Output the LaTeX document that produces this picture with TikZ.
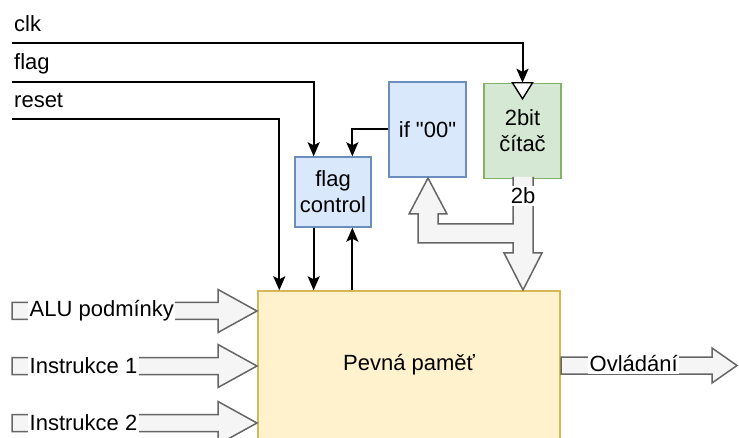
\documentclass[tikz,border=0pt]{standalone}
\usepackage{fontspec}
\setmainfont{Liberation Sans}
\usetikzlibrary{arrows.meta,calc}
\definecolor{bluefill}{HTML}{DAE8FC}
\definecolor{bluedraw}{HTML}{6C8EBF}
\definecolor{greenfill}{HTML}{D5E8D4}
\definecolor{greendraw}{HTML}{82B366}
\definecolor{yelfill}{HTML}{FFF2CC}
\definecolor{yeldraw}{HTML}{D6B656}
\definecolor{flexfill}{HTML}{F5F5F5}
\definecolor{flexdraw}{HTML}{666666}
\newcommand\dquote{\XeTeXglyph\XeTeXcharglyph"22\relax}
\begin{document}
\begin{tikzpicture}[x=1pt,y=-1pt,
  every node/.style={font=\fontsize{22}{26}\selectfont},
  box/.style={draw, line width=1.4pt, inner sep=0pt, align=center},
  bluebox/.style={box, fill=bluefill, draw=bluedraw},
  conn/.style={line width=2pt, -{Stealth[length=14pt,width=12pt,inset=3pt]}},
  flex/.style={line width=1.5pt, draw=flexdraw, fill=flexfill, line join=miter},
  lbl/.style={fill=white, inner sep=1.5pt}
]
\useasboundingbox (0,0) rectangle (739,438);
\clip (0,0) rectangle (739,438);

% boxes
\node[bluebox, minimum width=76pt, minimum height=70pt] (fc) at (333,192) {flag\\control};
\node[bluebox, minimum width=77pt, minimum height=95pt] (ifz) at (427.5,129.5) {if \dquote00\dquote};
\node[box, fill=greenfill, draw=greendraw, minimum width=77pt, minimum height=95pt, text depth=0pt] (cnt) at (522.5,131) {2bit\\čítač};
\node[box, fill=yelfill, draw=yeldraw, minimum width=302pt, minimum height=148pt] (mem) at (409,365) {Pevná paměť};

% input labels
\node[anchor=base west, inner sep=0pt] (clk) at (14,32) {clk};
\node[anchor=base west, inner sep=0pt] (flag) at (14,70) {flag};
\node[anchor=base west, inner sep=0pt] (reset) at (14,108) {reset};

\coordinate (clkS) at (12,43);
\coordinate (flagS) at (12,82);
\coordinate (resetS) at (12,119);
\coordinate (fcIn1) at ($(fc.north west)!0.25!(fc.north east)$);
\coordinate (fcIn2) at ($(fc.north west)!0.75!(fc.north east)$);
\coordinate (fcOut1) at ($(fc.south west)!0.25!(fc.south east)$);
\coordinate (fcOut2) at ($(fc.south west)!0.75!(fc.south east)$);
\coordinate (memR) at ([xshift=22pt]mem.north west);

% connectors
\draw[conn] (clkS) -| (cnt.north);
\draw[conn] (flagS) -| (fcIn1);
\draw[conn] (resetS) -| (memR);
\draw[conn] (ifz.west) -| (fcIn2);
\draw[conn] (fcOut1) -- (fcOut1 |- mem.north);
\draw[conn] (fcOut2 |- mem.north) -- (fcOut2);

% clock symbol
\draw[line width=1.4pt, fill=white] (cnt.north) +(-10,0) -- +(10,0) -- +(0,16) -- cycle;

% 2b flex arrow
\draw[flex] (533,177) -- (533,253) -- (542,253) -- (523,290) -- (504,253) -- (513,253)
  -- (513,243) -- (418,243) -- (418,214) -- (409,214) -- (428,178) -- (447,214)
  -- (438,214) -- (438,224) -- (513,224) -- (513,177);
\node[lbl] (twob) at (523,196) {2b};

% input flex arrows
\foreach \yc in {311,366,423}{
  \draw[flex] (12,\yc-8.5) -- (218,\yc-8.5) -- (218,\yc-21.5) -- (257,\yc)
    -- (218,\yc+21.5) -- (218,\yc+8.5) -- (12,\yc+8.5) -- cycle;
}
\node[lbl, anchor=west] (alu) at (28,311) {ALU podmínky};
\node[lbl, anchor=west] (ins1) at (28,366) {Instrukce 1\ };
\node[lbl, anchor=west] (ins2) at (28,423) {Instrukce 2\ };

% output flex arrow
\draw[flex] (561,357) -- (712,357) -- (712,348) -- (737,365.5) -- (712,383)
  -- (712,374) -- (561,374) -- cycle;
\node[lbl, anchor=west] (ovl) at (588,364) {Ovládání};
\end{tikzpicture}
\end{document}
